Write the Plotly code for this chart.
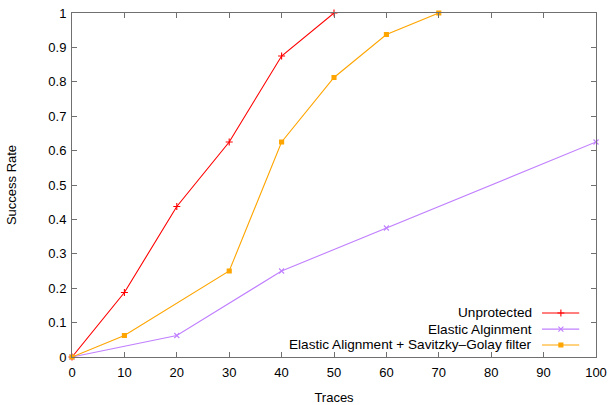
import plotly.graph_objects as go

# Data
unprot_x = [0, 10, 20, 30, 40, 50]
unprot_y = [0, 0.1875, 0.4375, 0.625, 0.875, 1.0]
elastic_x = [0, 20, 40, 60, 100]
elastic_y = [0, 0.0625, 0.25, 0.375, 0.625]
sg_x = [0, 10, 30, 40, 50, 60, 70]
sg_y = [0, 0.0625, 0.25, 0.625, 0.8125, 0.9375, 1.0]
names = ["Unprotected", "Elastic Alginment", "Elastic Alignment + Savitzky\u2013Golay filter"]
colors = ["#ff0000", "#c080ff", "#ffa500"]
symbols = ["cross-thin", "x-thin", "square"]
msizes = [5, 5, 4]
x_ticks = list(range(0, 101, 10))
y_ticks = [round(i * 0.1, 1) for i in range(11)]

FONT = "Liberation Sans, Arial, Helvetica, sans-serif"
FS = 13

fig = go.Figure()
series = [(unprot_x, unprot_y), (elastic_x, elastic_y), (sg_x, sg_y)]
for (xs, ys), n, c, s, ms in zip(series, names, colors, symbols, msizes):
    fig.add_trace(go.Scatter(
        x=xs, y=ys, mode="lines+markers", name=n,
        line=dict(color=c, width=1.1),
        marker=dict(symbol=s, size=ms, color=c, line=dict(color=c, width=1.1)),
        showlegend=False, cliponaxis=False,
    ))

# legend samples (on a hidden helper axis in plot-fraction units)
leg_rows = [0.128, 0.081, 0.035]
for n, c, s, ms, ry in zip(names, colors, symbols, msizes, leg_rows):
    fig.add_trace(go.Scatter(
        x=[0.897, 0.968], y=[ry, ry], xaxis="x2", yaxis="y2",
        mode="lines", line=dict(color=c, width=1.1), showlegend=False, hoverinfo="skip",
    ))
    fig.add_trace(go.Scatter(
        x=[0.933], y=[ry], xaxis="x2", yaxis="y2", mode="markers",
        marker=dict(symbol=s, size=ms, color=c, line=dict(color=c, width=1.1)),
        showlegend=False, hoverinfo="skip", cliponaxis=False,
    ))
    fig.add_annotation(x=0.881, y=ry, xref="x2", yref="y2", text=n, showarrow=False,
                       xanchor="right", yanchor="middle",
                       font=dict(family=FONT, size=13.6, color="#000000"))

axis_common = dict(
    showline=True, linecolor="#707070", linewidth=1, mirror="ticks",
    ticks="inside", ticklen=5, tickcolor="#707070", tickwidth=1,
    showgrid=False, zeroline=False, automargin=False,
    tickfont=dict(family=FONT, size=FS, color="#000000"),
)

fig.update_layout(
    width=608, height=405,
    margin=dict(l=72, r=12, t=13, b=48),
    paper_bgcolor="white", plot_bgcolor="white",
    font=dict(family=FONT, size=FS, color="#000000"),
    xaxis=dict(range=[0, 100], tickvals=x_ticks, ticktext=[str(v) for v in x_ticks],
               ticklabelstandoff=3,
               title=dict(text="Traces", standoff=14, font=dict(family=FONT, size=FS)),
               **axis_common),
    yaxis=dict(range=[0, 1], tickvals=y_ticks,
               ticktext=["0" if v == 0 else ("1" if v == 1 else str(v)) for v in y_ticks],
               ticklabelstandoff=2,
               title=dict(text="Success Rate", standoff=28, font=dict(family=FONT, size=FS)),
               **axis_common),
    xaxis2=dict(range=[0, 1], overlaying="x", visible=False, fixedrange=True),
    yaxis2=dict(range=[0, 1], overlaying="y", visible=False, fixedrange=True),
    showlegend=False,
)

fig.write_html("out.html")
